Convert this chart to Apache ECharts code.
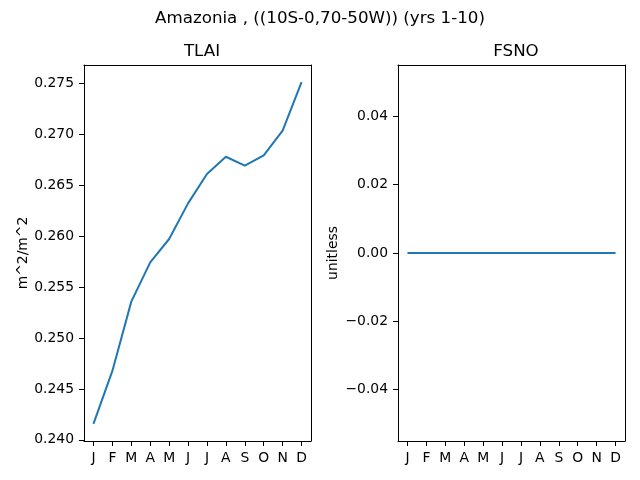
<!DOCTYPE html>
<html>
<head>
<meta charset="utf-8">
<script src="https://cdn.jsdelivr.net/npm/echarts@6/dist/echarts.min.js"></script>
<style>html,body{margin:0;padding:0;background:#fff}#c{width:640px;height:480px}</style>
</head>
<body>
<div id="c"></div>
<script>
var months = ['J','F','M','A','M','J','J','A','S','O','N','D'];
var tlai = [0.24157, 0.24677, 0.25358, 0.25744, 0.25973, 0.26323, 0.26611, 0.26781, 0.26693, 0.26795, 0.27037, 0.27514];
var fsno = [0,0,0,0,0,0,0,0,0,0,0,0];
var tlaiTicks = [0.240, 0.245, 0.250, 0.255, 0.260, 0.265, 0.270, 0.275];
var fsnoTicks = [-0.04, -0.02, 0.00, 0.02, 0.04];
var suptitle = 'Amazonia , ((10S-0,70-50W)) (yrs 1-10)';
var titles = ['TLAI', 'FSNO'];
var units = ['m^2/m^2', 'unitless'];

var FONT = 'DejaVu Sans';
var chart = echarts.init(document.getElementById('c'), null, {renderer: 'canvas'});

function fmtMinus(s) { return s.replace('-', '\u2212'); }

var axisLineStyle = {color: '#000', width: 1};
function xAxisFor(idx) {
  return {
    type: 'category', gridIndex: idx, data: months, boundaryGap: true,
    axisLine: {show: true, onZero: false, lineStyle: axisLineStyle},
    axisTick: {show: true, alignWithLabel: true, length: 5, lineStyle: {color: '#000'}},
    axisLabel: {color: '#000', fontFamily: FONT, fontSize: 13.9, margin: 10, interval: 0},
    splitLine: {show: false}
  };
}
function xTopFor(idx) {
  return {
    type: 'category', gridIndex: idx, data: months, position: 'top', boundaryGap: true,
    axisLine: {show: true, onZero: false, lineStyle: axisLineStyle}, axisTick: {show: false}, axisLabel: {show: false}, splitLine: {show: false}
  };
}

var option = {
  backgroundColor: '#fff',
  animation: false,
  title: [
    {text: suptitle, left: 'center', top: 5, textStyle: {fontFamily: FONT, fontSize: 16.7, fontWeight: 'normal', color: '#000'}},
    {text: titles[0], left: 197, top: 38, textAlign: 'center', textStyle: {fontFamily: FONT, fontSize: 16.7, fontWeight: 'normal', color: '#000'}},
    {text: titles[1], left: 511, top: 38, textAlign: 'center', textStyle: {fontFamily: FONT, fontSize: 16.7, fontWeight: 'normal', color: '#000'}}
  ],
  grid: [
    {left: 84, top: 65, width: 227, height: 376, show: false},
    {left: 398, top: 65, width: 227, height: 376, show: false}
  ],
  xAxis: [xAxisFor(0), xAxisFor(1), xTopFor(0), xTopFor(1)],
  yAxis: [
    {
      type: 'value', gridIndex: 0, min: 0.23989, max: 0.27682,
      name: units[0], nameLocation: 'middle', nameGap: 54, nameRotate: 90,
      nameTextStyle: {fontFamily: FONT, fontSize: 13.9, color: '#000'},
      axisLine: {show: true, onZero: false, lineStyle: axisLineStyle},
      axisTick: {show: true, length: 5, customValues: tlaiTicks, lineStyle: {color: '#000'}},
      axisLabel: {color: '#000', fontFamily: FONT, fontSize: 13.9, margin: 10, customValues: tlaiTicks,
        formatter: function (v) { return v.toFixed(3); }},
      splitLine: {show: false}
    },
    {
      type: 'value', gridIndex: 1, min: -0.055, max: 0.055,
      name: units[1], nameLocation: 'middle', nameGap: 58, nameRotate: 90,
      nameTextStyle: {fontFamily: FONT, fontSize: 13.9, color: '#000'},
      axisLine: {show: true, onZero: false, lineStyle: axisLineStyle},
      axisTick: {show: true, length: 5, customValues: fsnoTicks, lineStyle: {color: '#000'}},
      axisLabel: {color: '#000', fontFamily: FONT, fontSize: 13.9, margin: 10, customValues: fsnoTicks,
        formatter: function (v) { var s = Math.abs(v) < 1e-9 ? '0.00' : v.toFixed(2); return fmtMinus(s); }},
      splitLine: {show: false}
    },
    {type: 'value', gridIndex: 0, position: 'right', min: 0.23989, max: 0.27682, axisLine: {show: true, onZero: false, lineStyle: axisLineStyle}, axisTick: {show: false}, axisLabel: {show: false}, splitLine: {show: false}},
    {type: 'value', gridIndex: 1, position: 'right', min: -0.055, max: 0.055, axisLine: {show: true, onZero: false, lineStyle: axisLineStyle}, axisTick: {show: false}, axisLabel: {show: false}, splitLine: {show: false}}
  ],
  series: [
    {type: 'line', xAxisIndex: 0, yAxisIndex: 0, data: tlai, showSymbol: false, symbol: 'none', lineStyle: {color: '#1f77b4', width: 2}},
    {type: 'line', xAxisIndex: 1, yAxisIndex: 1, data: fsno, showSymbol: false, symbol: 'none', lineStyle: {color: '#1f77b4', width: 2}}
  ]
};
chart.setOption(option);
</script>
</body>
</html>
